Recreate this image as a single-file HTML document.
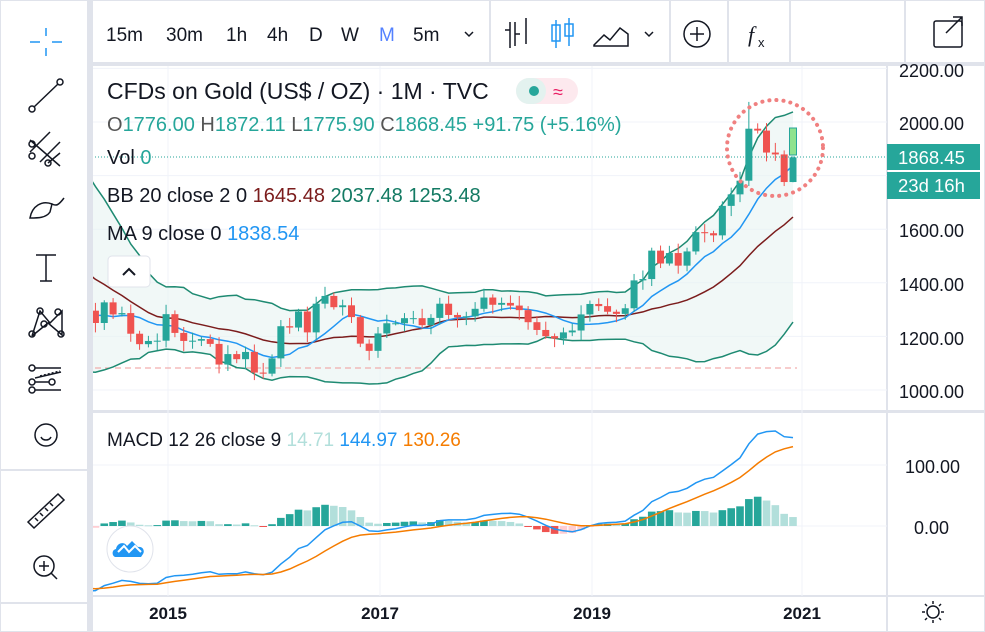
<!DOCTYPE html>
<html><head><meta charset="utf-8"><style>
body{margin:0;width:985px;height:632px;overflow:hidden;background:#fff;font-family:"Liberation Sans",sans-serif;}
svg{position:absolute;left:0;top:0}
</style></head><body>
<svg id="s" width="985" height="632" xmlns="http://www.w3.org/2000/svg" font-family="Liberation Sans, sans-serif">
<rect x="0" y="0" width="985" height="632" fill="#fff"/>
<rect x="0.5" y="0.5" width="984" height="631" fill="none" stroke="#e0e3eb"/>
<rect x="87" y="0" width="6" height="632" fill="#e0e3eb"/>
<rect x="93" y="62" width="892" height="4" fill="#e0e3eb"/>
<rect x="93" y="410" width="892" height="3" fill="#e0e3eb"/>
<line x1="93" y1="596" x2="985" y2="596" stroke="#e0e3eb" stroke-width="2"/>
<line x1="887" y1="66" x2="887" y2="632" stroke="#e0e3eb" stroke-width="2"/>
<line x1="0" y1="470" x2="87" y2="470" stroke="#e0e3eb" stroke-width="2"/>
<line x1="0" y1="603" x2="87" y2="603" stroke="#e0e3eb" stroke-width="2"/>
<g stroke="#e0e3eb" stroke-width="2"><line x1="490" y1="0" x2="490" y2="62"/><line x1="670" y1="0" x2="670" y2="62"/><line x1="728" y1="0" x2="728" y2="62"/><line x1="790" y1="0" x2="790" y2="62"/><line x1="905" y1="0" x2="905" y2="62"/></g>
<g font-size="19" fill="#131722">
<text x="106" y="41">15m</text><text x="166" y="41">30m</text><text x="226" y="41">1h</text><text x="267" y="41">4h</text><text x="309" y="41">D</text><text x="341" y="41">W</text><text x="379" y="41" fill="#2962ff" opacity=".8">M</text><text x="413" y="41">5m</text>
</g>
<path d="M465 32 l4 4 l4 -4" fill="none" stroke="#131722" stroke-width="1.5"/>
<path d="M645 32 l4 4 l4 -4" fill="none" stroke="#131722" stroke-width="1.5"/>
<g stroke="#131722" stroke-width="1.5" fill="none">
<path d="M510 22v26M505 30h5M515 22v24M515 34h5M526 18v26"/>
<path d="M556 20v28M552 25h8v16h-8z" stroke="#2196f3"/><path d="M569 18v28M565 24h8v12h-8z" stroke="#2196f3"/>
<path d="M594 45l10-10 6 5 10-12 8 6v12h-34z"/>
<circle cx="697" cy="34" r="13"/><path d="M690 34h14M697 27v14"/>
<rect x="934" y="21" width="28" height="26" rx="2"/><path d="M946 33l16-16M953 17h9v9"/>
</g>
<text x="748" y="42" font-size="22" font-style="italic" fill="#131722" font-family="Liberation Serif,serif">f</text><text x="758" y="47" font-size="13" fill="#131722">x</text>
<g stroke="#131722" stroke-width="1.5" fill="none">
<path d="M30 42h10M52 42h10M46 28v8M46 48v8" stroke="#2196f3"/>
<circle cx="32" cy="109" r="3"/><circle cx="60" cy="82" r="3"/><path d="M34 107l24-23"/>
<path d="M30 140l30 26M30 152l20-20M40 162l20-20M48 163l12-10"/><circle cx="32" cy="144" r="3"/><circle cx="32" cy="156" r="3"/><circle cx="48" cy="163" r="3"/>
<path d="M30 218c2-12 12-18 22-14l-2 8c-4 6-12 6-20 6z M52 204c4 2 6 2 12-6"/>
<path d="M36 255h20M46 255v26M40 281h12"/>
<path d="M32 336l8-25 10 12 12-12 0 24-14-12-16 13"/><circle cx="32" cy="334" r="3"/><circle cx="40" cy="311" r="3"/><circle cx="58" cy="312" r="3"/><circle cx="61" cy="334" r="3"/><circle cx="44" cy="324" r="3"/>
<circle cx="32" cy="368" r="3"/><circle cx="32" cy="382" r="3"/><circle cx="32" cy="390" r="3"/><circle cx="52" cy="382" r="3"/><path d="M35 368h26M35 390h26M35 382h14M35 378l26-6" /><path d="M40 376l20-5" stroke-dasharray="2 2"/>
<circle cx="46" cy="435" r="11"/><path d="M41 437c2 4 8 4 10 0"/>
<path d="M28 522l30-28 6 6-30 28z M35 518l3 3M40 513l3 3M45 508l3 3M50 503l3 3"/>
<circle cx="44" cy="566" r="10"/><path d="M39 566h10M44 561v10M51 573l6 6"/>
</g>
<g id="chart"></g>
<g font-size="23" fill="#131722"><text x="107" y="99">CFDs on Gold (US$ / OZ) · 1M · TVC</text></g>
<rect x="516" y="78" width="62" height="26" rx="13" fill="#fde9ee"/><rect x="516" y="78" width="30" height="26" rx="13" fill="#e3f2ef"/><circle cx="534" cy="91" r="5" fill="#26a69a"/><text x="553" y="98" font-size="18" fill="#e91e63">≈</text>
<g font-size="20"><text x="107" y="131" fill="#555">O<tspan fill="#26a69a">1776.00</tspan> H<tspan fill="#26a69a">1872.11</tspan> L<tspan fill="#26a69a">1775.90</tspan> C<tspan fill="#26a69a">1868.45 +91.75 (+5.16%)</tspan></text>
<text x="107" y="164" fill="#131722">Vol <tspan fill="#26a69a">  0</tspan></text>
<text x="107" y="202" fill="#131722">BB 20 close 2 0 <tspan fill="#7b1c1c"> 1645.48</tspan><tspan fill="#137a63"> 2037.48 1253.48</tspan></text>
<text x="107" y="240" fill="#131722">MA 9 close 0 <tspan fill="#2196f3"> 1838.54</tspan></text></g>
<rect x="108" y="256" width="42" height="31" rx="4" fill="#fff" stroke="#e0e3eb"/><path d="M123 275l6-6 6 6" fill="none" stroke="#131722" stroke-width="2"/>
<text x="107" y="446" font-size="19" fill="#131722">MACD 12 26 close 9 <tspan fill="#b2dfdb">14.71</tspan> <tspan fill="#2196f3">144.97</tspan> <tspan fill="#f57c00">130.26</tspan></text>
<g font-size="18" fill="#131722">
<text x="899" y="77">2200.00</text><text x="899" y="130">2000.00</text><text x="899" y="237">1600.00</text><text x="899" y="291">1400.00</text><text x="899" y="345">1200.00</text><text x="899" y="398">1000.00</text>
<text x="905" y="473">100.00</text><text x="914" y="534">0.00</text>
</g>
<rect x="887" y="144" width="93" height="26" fill="#26a69a"/><text x="898" y="164" font-size="18.5" fill="#fff">1868.45</text>
<rect x="887" y="172" width="93" height="27" fill="#26a69a"/><text x="898" y="192" font-size="18.5" fill="#fff">23d 16h</text>
<g font-size="17" fill="#131722" font-weight="bold" text-anchor="middle"><text x="168" y="619">2015</text><text x="380" y="619">2017</text><text x="592" y="619">2019</text><text x="802" y="619">2021</text></g>
<g stroke="#131722" stroke-width="1.5" fill="none"><circle cx="933" cy="612" r="6"/><path d="M933 601v3M933 620v3M922 612h3M941 612h3M925 604l2 2M939 618l2 2M925 620l2-2M939 606l2-2"/></g>
<circle cx="130" cy="549" r="23" fill="#fff" stroke="#e0e3eb"/>
<path d="M116 557c-4 0-5-7 0-8 1-6 8-8 11-3l5-5 6 6c5-1 7 4 5 7l-2 3z" fill="#2196f3"/>
<path d="M118 552l6-6 5 6 6-6 6 6" fill="none" stroke="#fff" stroke-width="2"/>
</svg>
<script>
var C=[1737,1710,1669,1664,1560,1604,1614,1692,1773,1719,1713,1675,
1663,1579,1596,1476,1393,1234,1313,1396,1327,1323,1253,1202,
1244,1326,1284,1296,1250,1327,1282,1287,1210,1171,1183,1184,
1283,1213,1183,1184,1190,1172,1095,1134,1115,1142,1065,1061,
1118,1238,1233,1293,1215,1322,1351,1309,1316,1272,1173,1146,
1211,1249,1249,1268,1268,1242,1269,1322,1280,1271,1275,1303,
1345,1318,1325,1315,1298,1253,1224,1201,1192,1215,1222,1282,
1321,1313,1292,1284,1305,1409,1414,1520,1472,1511,1464,1517,
1589,1585,1577,1687,1730,1781,1975,1968,1886,1879,1776,1868];
var N=C.length;
function X(i){return 793-(N-1-i)*8.83}
function PY(p){return 390-(p-1000)*0.268}
function MY(v){return 526-v*0.61}
var h='';
[168,380,592,802].forEach(function(x){h+='<line x1="'+x+'" y1="66" x2="'+x+'" y2="596" stroke="#f0f3fa"/>';});
[1000,1200,1400,1600,1800,2000,2200].forEach(function(p){h+='<line x1="93" y1="'+PY(p)+'" x2="887" y2="'+PY(p)+'" stroke="#f0f3fa"/>';});
[0,100].forEach(function(v){h+='<line x1="93" y1="'+MY(v)+'" x2="887" y2="'+MY(v)+'" stroke="#f0f3fa"/>';});
var bu=[],bl=[],bm=[],ma=[];
for(var i=0;i<N;i++){
 if(i>=19){var s=0;for(var k=i-19;k<=i;k++)s+=C[k];var m=s/20;var v=0;for(k=i-19;k<=i;k++)v+=(C[k]-m)*(C[k]-m);var sd=Math.sqrt(v/20);bm[i]=m;bu[i]=m+2*sd;bl[i]=m-2*sd;}
 if(i>=8){var s2=0;for(var k=i-8;k<=i;k++)s2+=C[k];ma[i]=s2/9;}
}
var st=26;
function pl(a,f,col,w){var d='';for(var i=st;i<N;i++){d+=(i==st?'M':'L')+X(i).toFixed(1)+' '+f(a[i]).toFixed(1);}return '<path d="'+d+'" fill="none" stroke="'+col+'" stroke-width="'+(w||1.5)+'"/>';}
var fd='';for(i=st;i<N;i++)fd+=(i==st?'M':'L')+X(i).toFixed(1)+' '+PY(bu[i]).toFixed(1);for(i=N-1;i>=st;i--)fd+='L'+X(i).toFixed(1)+' '+PY(bl[i]).toFixed(1);
h+='<path d="'+fd+'Z" fill="#e8f4f2" opacity=".6"/>';
h+='<line x1="95" y1="368" x2="797" y2="368" stroke="#ef9a9a" stroke-dasharray="6 4"/>';
h+=pl(bu,PY,'#1e8a72');h+=pl(bl,PY,'#1e8a72');h+=pl(bm,PY,'#7b1c1c');h+=pl(ma,PY,'#2196f3');
for(i=st;i<N;i++){var o=C[i-1],c=C[i],x=X(i);var up=c>=o;var col=up?'#26a69a':'#ef5350';
 var w1=8+(i*37%29),w2=8+(i*53%31);var hi=Math.max(o,c)+w1,lo=Math.min(o,c)-w2;
 if(i==N-1){hi=1872;lo=1775;o=1776;}
 if(i==N-6){hi=2075}
 h+='<line x1="'+x+'" y1="'+PY(hi)+'" x2="'+x+'" y2="'+PY(lo)+'" stroke="'+col+'"/>';
 var t=PY(Math.max(o,c)),b=PY(Math.min(o,c));h+='<rect x="'+(x-3.5)+'" y="'+t+'" width="7" height="'+Math.max(1,b-t)+'" fill="'+col+'"/>';}
h+='<rect x="789.5" y="128" width="7" height="27" fill="#8fe38f" stroke="#26a69a"/>';
h+='<line x1="95" y1="157" x2="885" y2="157" stroke="#26a69a" stroke-dasharray="1 2"/>';
h+='<circle cx="775" cy="148" r="48" fill="none" stroke="#f08080" stroke-width="4" stroke-dasharray="0.1 7" stroke-linecap="round"/>';
function ema(a,n){var r=[],k=2/(n+1);r[0]=a[0];for(var i=1;i<a.length;i++)r[i]=a[i]*k+r[i-1]*(1-k);return r;}
var e12=ema(C,12),e26=ema(C,26),md=[];for(i=0;i<N;i++)md[i]=e12[i]-e26[i];var sg=ema(md,9);
for(i=st;i<N;i++){var hv=md[i]-sg[i],pv=md[i-1]-sg[i-1];var col;if(hv>=0)col=hv>=pv?'#26a69a':'#b2dfdb';else col=hv<pv?'#ef5350':'#ffcdd2';
 var y0=MY(0),y1=MY(hv);h+='<rect x="'+(X(i)-3.8)+'" y="'+Math.min(y0,y1)+'" width="7.6" height="'+Math.max(1,Math.abs(y1-y0))+'" fill="'+col+'"/>';}
h+=pl(md,MY,'#2196f3');h+=pl(sg,MY,'#f57c00');
var g=document.getElementById('chart');
g.innerHTML='<svg x="0" y="0" width="985" height="632"><defs><clipPath id="cp"><rect x="93" y="66" width="794" height="530"/></clipPath></defs><g clip-path="url(#cp)">'+h+'</g></svg>';
</script>
</body></html>
